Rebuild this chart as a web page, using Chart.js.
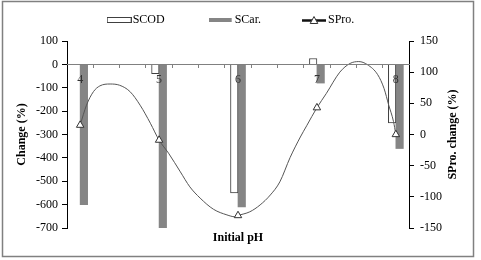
<!DOCTYPE html>
<html>
<head>
<meta charset="utf-8">
<title>Change vs initial pH</title>
<script src="https://cdn.jsdelivr.net/npm/chart.js@4.4.1/dist/chart.umd.min.js"></script>
<style>
  html, body { margin: 0; padding: 0; background: #fff; }
  #chart-wrap { position: relative; width: 481px; height: 260px; }
</style>
</head>
<body>
<div id="chart-wrap"><canvas id="ph-chart" width="481" height="260"></canvas></div>
<script>
// Values
const PH_VALUES = [4, 5, 6, 7, 8];
const SCOD_CHANGE = [0, -40, -550, 25, -250];     // left axis (%)
const SCAR_CHANGE = [-600, -700, -610, -80, -360]; // left axis (%)
const SPRO_CHANGE = [15, -9, -130, 43, 0];          // right axis (%)

// SPro. trend curve
const CURVE_PH = [4.0, 4.08, 4.17, 4.25, 4.38, 4.5, 4.63, 4.76, 4.89, 5.0,
                  5.12, 5.27, 5.39, 5.52, 5.69, 5.86, 5.96, 6.0, 6.15, 6.28,
                  6.41, 6.53, 6.66, 6.79, 6.87, 7.0, 7.12, 7.29, 7.42, 7.53,
                  7.64, 7.77, 7.85, 7.91, 7.97, 8.0];
const CURVE_VAL = [15, 47, 69, 78, 81, 79, 69, 47, 18, -9,
                   -30, -60, -84, -102, -120, -129, -132, -130, -124, -113,
                   -97, -76, -37, -4, 14, 43, 66, 100, 114, 117,
                   112, 96, 74, 47, 21, 0];

// Axis ticks
const LEFT_TICKS = [100, 0, -100, -200, -300, -400, -500, -600, -700];
const RIGHT_TICKS = [150, 100, 50, 0, -50, -100, -150];
const X_LABELS = ['4', '5', '6', '7', '8'];

// Series names
const NAMES = ['SCOD', 'SCar.', 'SPro.'];

// Layout
const X_MIN = 23 / 6;
const X_MAX = 49 / 6;
const FONT = '"Liberation Serif", "Times New Roman", serif';

Chart.defaults.font.family = FONT;
Chart.defaults.font.size = 12;
Chart.defaults.color = '#000';

// Small legend glyphs
function makeSymbol(kind) {
    const c = document.createElement('canvas');
    c.width = 25;
    c.height = 10;
    const g = c.getContext('2d');
    if (kind === 'box') {
        g.fillStyle = '#fff';
        g.fillRect(0.5, 2.5, 24, 5);
        g.strokeStyle = '#404040';
        g.lineWidth = 1;
        g.strokeRect(0.5, 2.5, 24, 5);
    } else if (kind === 'bar') {
        g.fillStyle = '#858585';
        g.fillRect(0, 3, 23, 4);
    } else {
        g.strokeStyle = '#111';
        g.lineWidth = 2.5;
        g.beginPath();
        g.moveTo(0, 5.5);
        g.lineTo(24, 5.5);
        g.stroke();
        g.beginPath();
        g.moveTo(12, 1.5);
        g.lineTo(15.8, 8.5);
        g.lineTo(8.2, 8.5);
        g.closePath();
        g.fillStyle = '#fff';
        g.fill();
        g.lineWidth = 1;
        g.strokeStyle = '#333';
        g.stroke();
    }
    return c;
}

const pad = (text, n) => text + ' '.repeat(n);

// Frame and right-hand axis title (reads bottom to top)
const framePlugin = {
    id: 'frame',
    afterDraw(chart) {
        const ctx = chart.ctx;
        const area = chart.chartArea;
        ctx.save();
        ctx.strokeStyle = '#808080';
        ctx.lineWidth = 1.5;
        ctx.strokeRect(2.5, 1.5, 471, 255);
        ctx.translate(453, (area.top + area.bottom) / 2);
        ctx.rotate(-Math.PI / 2);
        ctx.font = 'bold 12px ' + FONT;
        ctx.fillStyle = '#000';
        ctx.textAlign = 'center';
        ctx.textBaseline = 'middle';
        ctx.fillText(NAMES[2] + ' change (%)', 0, 0);
        ctx.restore();
    }
};

function initChart() {
    const ctx = document.getElementById('ph-chart').getContext('2d');
    const symbols = [makeSymbol('box'), makeSymbol('bar'), makeSymbol('line')];
    const padding = [13, 12, 5];

    // minor x ticks every third of a unit, plus the labelled integers
    const xTicks = [];
    for (let k = 0; k <= 13; k++) xTicks.push(X_MIN + k / 3);
    X_LABELS.forEach(l => xTicks.push(Number(l)));
    xTicks.sort((a, b) => a - b);

    return new Chart(ctx, {
        type: 'bar',
        data: {
            datasets: [
                {
                    type: 'line',
                    label: NAMES[2],
                    data: PH_VALUES.map((x, i) => ({ x, y: SPRO_CHANGE[i] })),
                    yAxisID: 'y2',
                    showLine: false,
                    pointStyle: 'triangle',
                    pointRadius: 4.3,
                    pointBackgroundColor: '#fff',
                    pointBorderColor: '#333',
                    pointBorderWidth: 1,
                    order: 0
                },
                {
                    type: 'line',
                    label: 'trend',
                    data: CURVE_PH.map((x, i) => ({ x, y: CURVE_VAL[i] })),
                    yAxisID: 'y2',
                    borderColor: '#555',
                    borderWidth: 1,
                    pointRadius: 0,
                    cubicInterpolationMode: 'monotone',
                    fill: false,
                    order: 1
                },
                {
                    label: NAMES[0],
                    data: PH_VALUES.map((x, i) => ({ x, y: SCOD_CHANGE[i] })),
                    yAxisID: 'y',
                    backgroundColor: '#fff',
                    borderColor: '#404040',
                    borderWidth: 1,
                    barThickness: 7.5,
                    order: 2
                },
                {
                    label: NAMES[1],
                    data: PH_VALUES.map((x, i) => ({ x, y: SCAR_CHANGE[i] })),
                    yAxisID: 'y',
                    backgroundColor: '#858585',
                    borderWidth: 0,
                    barThickness: 7.5,
                    order: 2
                }
            ]
        },
        options: {
            responsive: false,
            animation: false,
            events: [],
            layout: { padding: { top: 4, left: 0, right: 0, bottom: 0 } },
            plugins: {
                tooltip: { enabled: false },
                legend: {
                    position: 'top',
                    labels: {
                        usePointStyle: true,
                        pointStyleWidth: 15,
                        padding: 10,
                        color: '#000',
                        font: { size: 12, family: FONT },
                        generateLabels: () => NAMES.map((name, i) => ({
                            text: pad(name, padding[i]),
                            pointStyle: symbols[i],
                            fillStyle: '#fff',
                            strokeStyle: '#000',
                            lineWidth: 0,
                            hidden: false,
                            fontColor: '#000',
                            datasetIndex: i
                        }))
                    }
                }
            },
            scales: {
                x: {
                    type: 'linear',
                    position: { y: 0 },
                    min: X_MIN,
                    max: X_MAX,
                    offset: false,
                    afterBuildTicks: scale => {
                        scale.ticks = xTicks.map(value => ({ value }));
                    },
                    grid: {
                        display: true,
                        drawOnChartArea: false,
                        drawTicks: true,
                        tickLength: 3,
                        offset: false,
                        tickColor: c => Number.isInteger(c.tick && c.tick.value) ? 'rgba(0,0,0,0)' : '#808080'
                    },
                    border: { display: true, color: '#808080', width: 1, z: 1 },
                    ticks: {
                        z: 2,
                        autoSkip: false,
                        maxRotation: 0,
                        padding: 5,
                        color: '#333',
                        font: { size: 12 },
                        callback: value => Number.isInteger(value) ? String(value) : ''
                    }
                },
                xt: {
                    type: 'linear',
                    position: 'top',
                    display: true,
                    grid: { display: false },
                    border: { display: false },
                    ticks: { display: false },
                    afterFit: scale => { scale.height = 5; }
                },
                xb: {
                    type: 'linear',
                    position: 'bottom',
                    display: true,
                    grid: { display: false },
                    border: { display: false },
                    ticks: { display: false },
                    title: {
                        display: true,
                        text: 'Initial pH',
                        color: '#000',
                        font: { size: 12, weight: 'bold' },
                        padding: { top: 0, bottom: 15 }
                    },
                    afterFit: scale => { scale.height = 32; }
                },
                y: {
                    type: 'linear',
                    position: 'left',
                    min: Math.min(...LEFT_TICKS),
                    max: Math.max(...LEFT_TICKS),
                    ticks: { stepSize: 100, padding: 4, color: '#000', font: { size: 12 } },
                    grid: { display: true, drawOnChartArea: false, drawTicks: true, tickLength: 5, color: '#000' },
                    border: { display: true, color: '#000', width: 1 },
                    title: {
                        display: true,
                        text: 'Change (%)',
                        color: '#000',
                        font: { size: 12, weight: 'bold' },
                        padding: { top: 15, bottom: 0 }
                    },
                    afterFit: scale => { scale.width = 67; }
                },
                y2: {
                    type: 'linear',
                    position: 'right',
                    min: Math.min(...RIGHT_TICKS),
                    max: Math.max(...RIGHT_TICKS),
                    ticks: { stepSize: 50, padding: 6, color: '#000', font: { size: 12 } },
                    grid: { display: true, drawOnChartArea: false, drawTicks: true, tickLength: 5, color: '#000' },
                    border: { display: true, color: '#000', width: 1 },
                    afterFit: scale => { scale.width = 72; }
                }
            }
        },
        plugins: [framePlugin]
    });
}

document.addEventListener('DOMContentLoaded', () => {
    initChart();
});
</script>
</body>
</html>
